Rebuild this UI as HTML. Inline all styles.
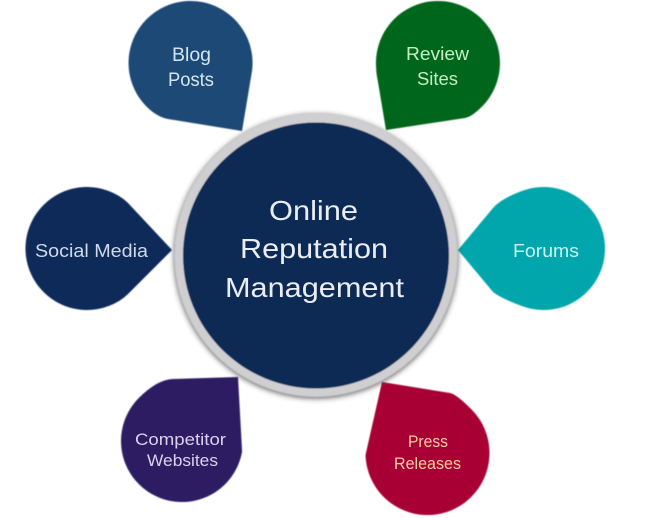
<!DOCTYPE html>
<html>
<head>
<meta charset="utf-8">
<style>
html,body{margin:0;padding:0;background:#fff;width:651px;height:518px;overflow:hidden}
svg{display:block}
text{font-family:"Liberation Sans",sans-serif;text-anchor:start}
</style>
</head>
<body>
<svg width="651" height="518" viewBox="0 0 651 518" xmlns="http://www.w3.org/2000/svg">
<defs>
<filter id="s" x="-20%" y="-20%" width="140%" height="140%"><feGaussianBlur stdDeviation="2.6"/></filter>
<filter id="e" x="-5%" y="-5%" width="110%" height="110%"><feGaussianBlur stdDeviation="0.4"/></filter>
</defs>
<rect width="651" height="518" fill="#fff"/>
<g filter="url(#e)">
<path d="M242 131 L168 119 Q157 117 146.7 106.8 A62 62 0 1 1 251.4 74.8 Z" fill="#1f4a75"/>
<path d="M386 130 L465 118 Q471.6 117 481.8 106.8 A62 62 0 1 0 376.2 68.4 Q376 72 378 82 Z" fill="#04661c"/>
<path d="M238 377 L173 379 Q157.3 379.5 138.9 397.9 A61 61 0 1 0 242.1 451.6 Z" fill="#2f1f63"/>
<path d="M382 382 L450 393 Q456.1 394 471.3 409.2 A62 62 0 1 1 365.5 455 Z" fill="#a80534"/>
<path d="M172 250 L128 203 Q120.3 195.2 108 190.7 A61.5 61.5 0 1 0 108 306.3 Q120.3 301.8 128 294 Z" fill="#0f2c58"/>
<path d="M458 250 L493 208 Q501 198.6 522.5 190.7 A61.5 61.5 0 1 1 522.5 306.3 Q501 298.4 493 292 Z" fill="#01a6ab"/>
<circle cx="316" cy="256.5" r="142" fill="#3a3a3a" opacity="0.75" filter="url(#s)"/>
<circle cx="316" cy="255.5" r="141" fill="#cfcfd1"/>
<circle cx="316" cy="255.5" r="133" fill="#0e2a55"/>
</g>
<g fill="#eaeef4" font-size="28">
<text x="269" y="220" textLength="89" lengthAdjust="spacingAndGlyphs">Online</text>
<text x="240" y="258" textLength="148" lengthAdjust="spacingAndGlyphs">Reputation</text>
<text x="225" y="297" textLength="179" lengthAdjust="spacingAndGlyphs">Management</text>
</g>
<g fill="#d3e5f2" font-size="19">
<text x="172" y="61" textLength="39" lengthAdjust="spacingAndGlyphs">Blog</text>
<text x="168" y="86" textLength="46" lengthAdjust="spacingAndGlyphs">Posts</text>
</g>
<g fill="#c4efc4" font-size="18.5">
<text x="406" y="60" textLength="63" lengthAdjust="spacingAndGlyphs">Review</text>
<text x="417" y="85" textLength="41" lengthAdjust="spacingAndGlyphs">Sites</text>
</g>
<g fill="#d8d2ee" font-size="17">
<text x="135" y="445" textLength="91" lengthAdjust="spacingAndGlyphs">Competitor</text>
<text x="147" y="466" textLength="71" lengthAdjust="spacingAndGlyphs">Websites</text>
</g>
<g fill="#f7cfa0" font-size="16.5">
<text x="408" y="447" textLength="40" lengthAdjust="spacingAndGlyphs">Press</text>
<text x="394" y="469" textLength="67" lengthAdjust="spacingAndGlyphs">Releases</text>
</g>
<text x="35" y="257" font-size="18.5" fill="#cfd9e8" textLength="113" lengthAdjust="spacingAndGlyphs">Social Media</text>
<text x="513" y="257" font-size="18.5" fill="#cdf4f3" textLength="66" lengthAdjust="spacingAndGlyphs">Forums</text>
</svg>
</body>
</html>
